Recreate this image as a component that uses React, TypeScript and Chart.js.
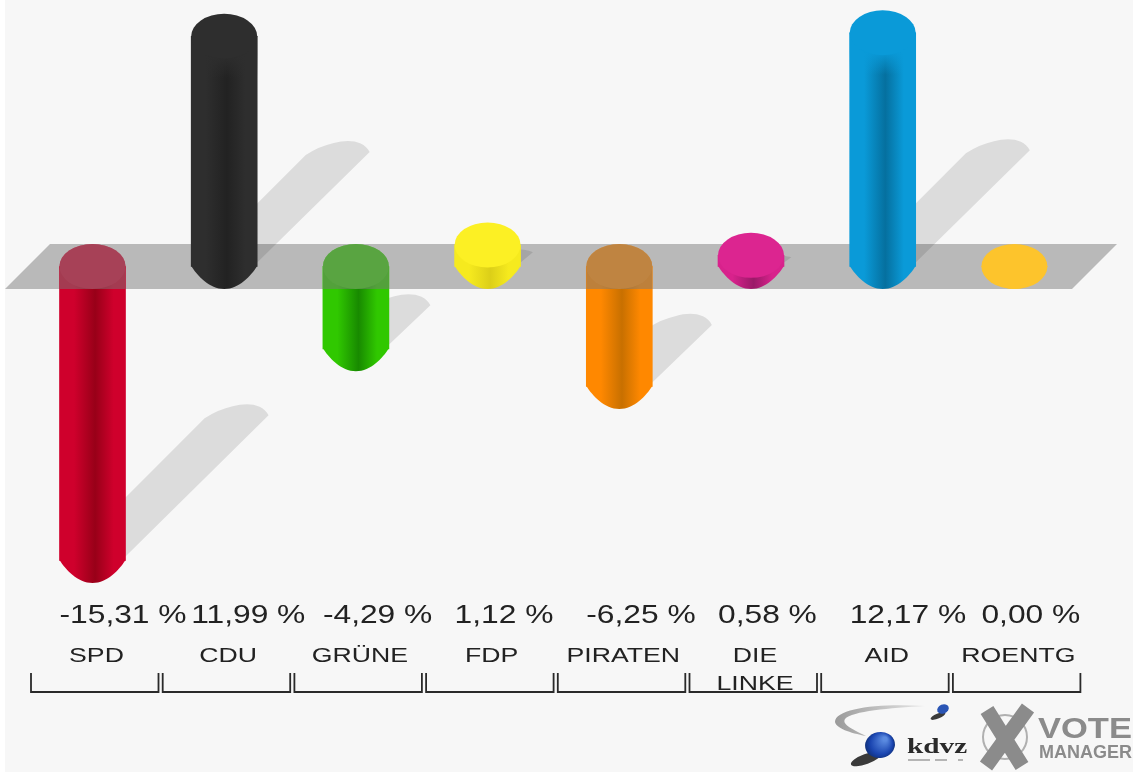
import React, { useEffect, useRef } from "react";
import { Chart, registerables } from "chart.js";

Chart.register(...registerables);

const categories = ["SPD", "CDU", "GRÜNE", "FDP", "PIRATEN", "DIE LINKE", "AID", "ROENTG"];
const categoryLines = [["SPD"], ["CDU"], ["GRÜNE"], ["FDP"], ["PIRATEN"], ["DIE", "LINKE"], ["AID"], ["ROENTG"]];
const values = [-15.31, 11.99, -4.29, 1.12, -6.25, 0.58, 12.17, 0.0];
const valueLabels = ["-15,31 %", "11,99 %", "-4,29 %", "1,12 %", "-6,25 %", "0,58 %", "12,17 %", "0,00 %"];
const edgeColors = ["#cf002c", "#2e2e2e", "#30c800", "#f6ea1e", "#ff8800", "#d8228c", "#0a9ad8", "#fdc42c"];
const midColors = ["#980018", "#222222", "#188a00", "#dccf18", "#c87000", "#9a1a68", "#05709f", "#fdc42c"];
const capColors = ["#cf002c", "#2e2e2e", "#30c800", "#fcf024", "#ff8800", "#dc2590", "#0a9ad8", "#fdc42c"];

const BAR_W = 66;
const RX = 33;
const RY = 22.5;
const FONT = '"Liberation Sans", Arial, sans-serif';

function bodyGradient(ctx: CanvasRenderingContext2D, cx: number, i: number) {
  const g = ctx.createLinearGradient(cx - RX, 0, cx + RX, 0);
  g.addColorStop(0, edgeColors[i]);
  g.addColorStop(0.22, edgeColors[i]);
  g.addColorStop(0.54, midColors[i]);
  g.addColorStop(0.82, edgeColors[i]);
  g.addColorStop(1, edgeColors[i]);
  return g;
}

function stretchedText(ctx: CanvasRenderingContext2D, text: string, x: number, y: number, sx: number, align: CanvasTextAlign) {
  ctx.save();
  ctx.translate(x, y);
  ctx.scale(sx, 1);
  ctx.textAlign = align;
  ctx.textBaseline = "alphabetic";
  ctx.fillText(text, 0, 0);
  ctx.restore();
}

function hexAlpha(hex: string, a: number) {
  const n = parseInt(hex.slice(1), 16);
  return `rgba(${(n >> 16) & 255},${(n >> 8) & 255},${n & 255},${a})`;
}

const scenePlugin = {
  id: "scene",
  beforeDatasetsDraw(chart: any) {
    const { ctx, scales } = chart;
    const y0 = scales.y.getPixelForValue(0);
    ctx.save();
    ctx.fillStyle = "#ffffff";
    ctx.fillRect(0, 0, chart.width, chart.height);
    ctx.fillStyle = "#f7f7f7";
    ctx.fillRect(5, 0, chart.width - 5, chart.height);
    // floor band
    ctx.fillStyle = "#b9b9b9";
    ctx.beginPath();
    ctx.moveTo(5, y0 + RY);
    ctx.lineTo(50, y0 - RY);
    ctx.lineTo(1117, y0 - RY);
    ctx.lineTo(1072, y0 + RY);
    ctx.closePath();
    ctx.fill();
    // cast shadows
    ctx.fillStyle = "rgba(0,0,0,0.105)";
    values.forEach((v, i) => {
      const cx = scales.x.getPixelForValue(i);
      const yv = scales.y.getPixelForValue(v);
      const h = Math.abs(yv - y0);
      if (h === 0) return;
      const base = v < 0 ? yv : y0;
      const d = h * 0.48;
      const tx = cx + RX + d + 2;
      const ty = base - 4 - d;
      const lx = tx - 64;
      const ly = ty + 3;
      const k = Math.min(1, d / 35);
      ctx.beginPath();
      ctx.moveTo(cx + RX, base - 4);
      ctx.lineTo(tx, ty);
      ctx.bezierCurveTo(tx - 6, ty - 12 * k, tx - 22, ty - 13 * k, tx - 36, ty - 9 * k);
      ctx.quadraticCurveTo(tx - 50, ty - 6 * k, lx, ly);
      ctx.lineTo(cx, ly + Math.max(0, lx - cx));
      ctx.closePath();
      ctx.fill();
    });
    ctx.restore();
  },
  afterDatasetsDraw(chart: any) {
    const { ctx, scales } = chart;
    const y0 = scales.y.getPixelForValue(0);
    ctx.save();
    values.forEach((v, i) => {
      const cx = scales.x.getPixelForValue(i);
      const yv = scales.y.getPixelForValue(v);
      const h = Math.abs(yv - y0);
      const yLow = v < 0 ? yv : y0;
      const yHigh = v < 0 ? y0 : yv;
      // tapered lower end
      ctx.fillStyle = bodyGradient(ctx, cx, i);
      ctx.beginPath();
      ctx.moveTo(cx - RX, yLow - 0.5);
      ctx.lineTo(cx + RX, yLow - 0.5);
      ctx.bezierCurveTo(cx + 27, yLow + 9, cx + 15, yLow + RY, cx, yLow + RY);
      ctx.bezierCurveTo(cx - 15, yLow + RY, cx - 27, yLow + 9, cx - RX, yLow - 0.5);
      ctx.closePath();
      ctx.fill();
      // shading fades in below the flat end of tall upright bars
      if (v > 0 && h > 50) {
        const fade = ctx.createLinearGradient(0, yHigh + 18, 0, yHigh + 42);
        fade.addColorStop(0, hexAlpha(edgeColors[i], 1));
        fade.addColorStop(1, hexAlpha(edgeColors[i], 0));
        ctx.fillStyle = fade;
        ctx.fillRect(cx - RX, yHigh, BAR_W, 42);
      }
      // flat upper end
      ctx.fillStyle = capColors[i];
      ctx.beginPath();
      ctx.ellipse(cx, yHigh, RX, RY, 0, 0, Math.PI * 2);
      ctx.fill();
      // floor band seen in front of bars that hang below it
      if (v < 0) {
        ctx.fillStyle = "rgba(120,120,120,0.49)";
        ctx.beginPath();
        ctx.ellipse(cx, y0, RX, RY, 0, Math.PI, 0);
        ctx.lineTo(cx + RX, y0 + RY);
        ctx.lineTo(cx - RX, y0 + RY);
        ctx.closePath();
        ctx.fill();
        ctx.fillStyle = "rgba(255,255,255,0.035)";
        ctx.beginPath();
        ctx.ellipse(cx, y0, RX, RY, 0, 0, Math.PI * 2);
        ctx.fill();
      }
    });

    // value labels, category labels and brackets
    ctx.fillStyle = "#222222";
    ctx.strokeStyle = "#2a2a2a";
    ctx.lineWidth = 1.8;
    categories.forEach((_, i) => {
      const cx = scales.x.getPixelForValue(i);
      ctx.font = `25px ${FONT}`;
      stretchedText(ctx, valueLabels[i], cx - 33, 623, 1.27, "left");
      ctx.font = `21px ${FONT}`;
      categoryLines[i].forEach((line, k) => {
        stretchedText(ctx, line, cx + 4, 662 + k * 28, 1.27, "center");
      });
      ctx.beginPath();
      ctx.moveTo(cx - 61.5, 673);
      ctx.lineTo(cx - 61.5, 692);
      ctx.lineTo(cx + 66, 692);
      ctx.lineTo(cx + 66, 673);
      ctx.stroke();
    });

    drawLogos(ctx);
    ctx.restore();
  },
};

function drawLogos(ctx: CanvasRenderingContext2D) {
  // kdvz swoosh
  const swoosh = ctx.createLinearGradient(835, 0, 930, 0);
  swoosh.addColorStop(0, "#9a9a9a");
  swoosh.addColorStop(1, "#ececec");
  ctx.fillStyle = swoosh;
  ctx.beginPath();
  ctx.moveTo(925, 706);
  ctx.bezierCurveTo(880, 703, 835, 708, 835, 722);
  ctx.bezierCurveTo(836, 728, 850, 733, 866, 736);
  ctx.bezierCurveTo(850, 728, 842, 724, 845, 719);
  ctx.bezierCurveTo(852, 711, 890, 708, 925, 706);
  ctx.closePath();
  ctx.fill();
  // shadows under spheres
  ctx.fillStyle = "#3a3a3a";
  ctx.beginPath();
  ctx.ellipse(866, 759, 16, 5, -0.35, 0, Math.PI * 2);
  ctx.fill();
  ctx.beginPath();
  ctx.ellipse(938, 716, 8, 2.5, -0.4, 0, Math.PI * 2);
  ctx.fill();
  // spheres
  const big = ctx.createRadialGradient(885, 739, 2, 880, 745, 15);
  big.addColorStop(0, "#5a8ae0");
  big.addColorStop(0.7, "#1a45b0");
  big.addColorStop(1, "#10307a");
  ctx.fillStyle = big;
  ctx.beginPath();
  ctx.ellipse(880, 745, 15, 13, -0.2, 0, Math.PI * 2);
  ctx.fill();
  ctx.fillStyle = "#2a55b5";
  ctx.beginPath();
  ctx.ellipse(943, 709, 6, 4.5, -0.4, 0, Math.PI * 2);
  ctx.fill();
  // kdvz wordmark
  ctx.fillStyle = "#2a2a2a";
  ctx.font = 'bold 22px "Liberation Serif", serif';
  stretchedText(ctx, "kdvz", 907, 753, 1.33, "left");
  ctx.fillStyle = "#b5b5b5";
  ctx.fillRect(908, 759, 22, 2);
  ctx.fillRect(935, 759, 12, 2);
  ctx.fillRect(958, 759, 5, 2);
  // vote manager mark
  ctx.strokeStyle = "#b0b0b0";
  ctx.lineWidth = 2;
  ctx.beginPath();
  ctx.arc(1005, 737, 22, 0, Math.PI * 2);
  ctx.stroke();
  ctx.strokeStyle = "#8b8b8b";
  ctx.lineWidth = 15;
  ctx.beginPath();
  ctx.moveTo(987, 710);
  ctx.lineTo(1022, 766);
  ctx.moveTo(1028, 708);
  ctx.lineTo(986, 766);
  ctx.stroke();
  ctx.fillStyle = "#8b8b8b";
  ctx.font = `bold 29px ${FONT}`;
  stretchedText(ctx, "VOTE", 1038, 738, 1.19, "left");
  ctx.font = `bold 18px ${FONT}`;
  stretchedText(ctx, "MANAGER", 1039, 758, 1.0, "left");
}

export default function App() {
  const ref = useRef<HTMLCanvasElement | null>(null);
  useEffect(() => {
    const canvas = ref.current;
    if (!canvas) return;
    const chart = new Chart(canvas, {
      type: "bar",
      data: {
        labels: categories,
        datasets: [
          {
            data: values,
            barThickness: BAR_W,
            borderWidth: 0,
            backgroundColor: (c: any) => {
              const ch = c.chart;
              const i = c.dataIndex;
              if (i === undefined) return edgeColors[0];
              const cx = ch.scales?.x?.getPixelForValue(i);
              if (!Number.isFinite(cx)) return edgeColors[i];
              return bodyGradient(ch.ctx, cx, i);
            },
          },
        ],
      },
      options: {
        animation: false,
        responsive: false,
        devicePixelRatio: 1,
        layout: { padding: { left: 26.65, right: 52.75, top: 0, bottom: 0 } },
        plugins: { legend: { display: false }, tooltip: { enabled: false }, title: { display: false } },
        scales: {
          x: { display: false, grid: { display: false } },
          y: { display: false, min: -26.33, max: 13.88, grid: { display: false } },
        },
      },
      plugins: [scenePlugin],
    } as any);
    return () => chart.destroy();
  }, []);
  return (
    <canvas
      ref={ref}
      width={1133}
      height={772}
      style={{ position: "absolute", left: 0, top: 0, width: 1133, height: 772, display: "block" }}
    />
  );
}
